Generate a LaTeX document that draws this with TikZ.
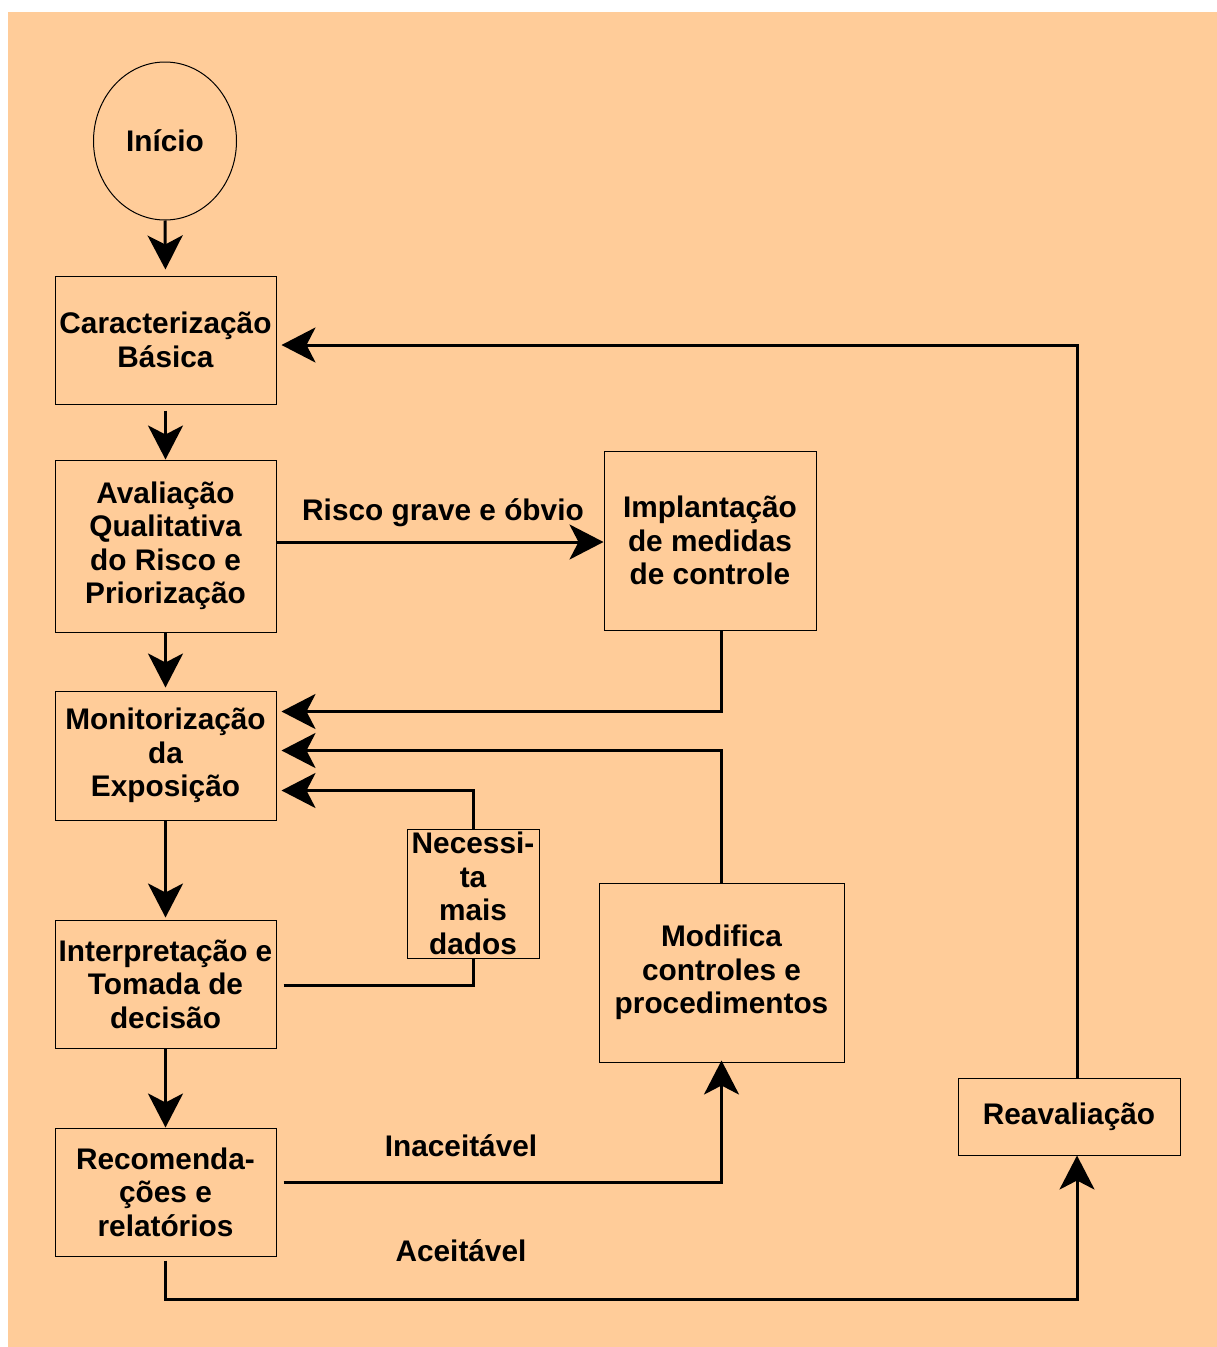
\documentclass[tikz,border=0pt]{standalone}
\usepackage{fontspec}
\setmainfont{Liberation Sans}
\usetikzlibrary{arrows.meta,shapes.geometric,calc}
\definecolor{peach}{HTML}{FFCC99}
\begin{document}
\begin{tikzpicture}[x=1pt,y=-1pt,
  every node/.style={font=\fontsize{29.8}{33.5}\selectfont\bfseries, align=center, inner sep=0pt},
  box/.style={draw=black, line width=1pt, rectangle},
  conn/.style={line width=3pt},
  arr/.style={conn, -{Stealth[length=34pt,width=35pt,inset=9pt]}},
  lbl/.style={}]
\useasboundingbox (0,0) rectangle (1217,1347);
\fill[peach] (8,12) rectangle (1217,1347);

\node[draw=black, line width=1pt, ellipse, minimum width=143pt, minimum height=158pt] (start) at (165,141) {Início};
\node[box, minimum width=221pt, minimum height=128pt] (carac) at (165.5,340) {Caracterização\\Básica};
\node[box, minimum width=221pt, minimum height=172pt] (aval) at (165.5,546) {Avaliação\\Qualitativa\\do Risco e\\Priorização};
\node[box, minimum width=212pt, minimum height=179pt] (impl) at (710,540.5) {Implantação\\de medidas\\de controle};
\node[box, minimum width=221pt, minimum height=129pt] (monit) at (165.5,755.5) {Monitorização\\da\\Exposição};
\node[box, minimum width=132pt, minimum height=129pt] (nec) at (473,893.5) {Necessi-\\ta\\mais\\dados};
\node[box, minimum width=221pt, minimum height=128pt] (interp) at (165.5,984) {Interpretação e\\Tomada de\\decisão};
\node[box, minimum width=245pt, minimum height=179pt] (mod) at (721.5,972.5) {Modifica\\controles e\\procedimentos};
\node[box, minimum width=221pt, minimum height=128pt] (recom) at (165.5,1192) {Recomenda-\\ções e\\relatórios};
\node[box, minimum width=222pt, minimum height=77pt] (reav) at (1069,1116.5) {Reavaliação};

\node[lbl] (lrisco) at (443,513) {Risco grave e óbvio};
\node[lbl] (linac) at (461,1146) {Inaceitável};
\node[lbl] (lacei) at (461,1251) {Aceitável};

\coordinate (rs) at ($(aval.east)+(0,-4)$);

% main vertical chain
\draw[arr, shorten >=6pt] (start.south) -- (carac.north);
\draw[arr, shorten <=6pt] (carac.south) -- (aval.north);
\draw[arr, shorten >=3pt] (aval.south) -- (monit.north);
\draw[arr, shorten >=2pt] (monit.south) -- (interp.north);
\draw[arr] (interp.south) -- (recom.north);

% risk branch
\draw[arr] (rs) -- (rs -| impl.west);
\draw[arr] (impl.south -| mod.north) |- ($(monit.east)+(5,-44)$);
\draw[arr] (mod.north) |- ($(monit.east)+(5,-5)$);
\draw[arr] (nec.north) |- ($(monit.east)+(5,35)$);
\draw[conn] ($(interp.east)+(7,1)$) -| (nec.south);

% outcomes
\draw[arr, shorten >=-2pt] ($(recom.east)+(7,-10)$) -| (mod.south);
\draw[arr, shorten <=4pt] (recom.south) |- (1077,1299) -- ($(reav.south)+(8,0)$);
\draw[arr] ($(reav.north)+(8,0)$) |- ($(carac.east)+(5,5)$);
\end{tikzpicture}
\end{document}
